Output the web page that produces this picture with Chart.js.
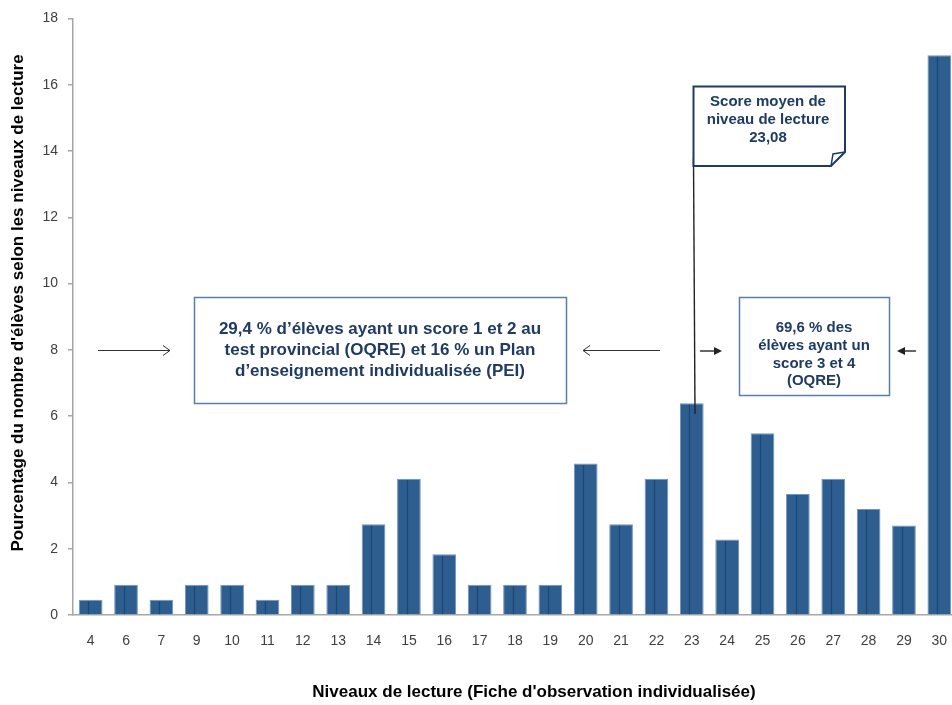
<!DOCTYPE html>
<html>
<head>
<meta charset="utf-8">
<script src="https://cdn.jsdelivr.net/npm/chart.js@4.4.1/dist/chart.umd.min.js"></script>
<style>
  html, body { margin: 0; padding: 0; background: #ffffff; overflow: hidden; }
  #wrap { width: 952px; height: 705px; overflow: hidden; position: relative; }
  canvas { display: block; }
</style>
</head>
<body>
<div id="wrap"><canvas id="c" width="957" height="705"></canvas></div>
<script>
const categories = ['4','6','7','9','10','11','12','13','14','15','16','17','18','19','20','21','22','23','24','25','26','27','28','29','30'];
const percentages = [0.46,0.91,0.46,0.91,0.91,0.46,0.91,0.91,2.74,4.11,1.83,0.91,0.91,0.91,4.57,2.74,4.11,6.39,2.28,5.48,3.65,4.11,3.20,2.70,16.89];
const yMin = 0, yMax = 18, yStep = 2;
const xTitle = "Niveaux de lecture (Fiche d'observation individualisée)";
const yTitle = "Pourcentage du nombre d'élèves selon les niveaux de lecture";
const leftNote = ["29,4 % d’élèves ayant un score 1 et 2 au", "test provincial (OQRE) et 16 % un Plan", "d’enseignement individualisée (PEI)"];
const rightNote = ["69,6 % des", "élèves ayant un", "score 3 et 4", "(OQRE)"];
const meanNote = ["Score moyen de", "niveau de lecture", "23,08"];

const NAVY = '#1F3B63';
const FONT = '"Liberation Sans", Arial, sans-serif';

function arrow(ctx, x1, y, x2, filled) {
  const dir = x2 > x1 ? 1 : -1;
  ctx.beginPath();
  ctx.moveTo(x1, y); ctx.lineTo(x2 - (filled ? dir * 6 : 0), y);
  ctx.stroke();
  ctx.beginPath();
  if (filled) {
    ctx.moveTo(x2, y); ctx.lineTo(x2 - dir * 8, y - 4); ctx.lineTo(x2 - dir * 8, y + 4); ctx.closePath(); ctx.fill();
  } else {
    ctx.moveTo(x2 - dir * 7, y - 5); ctx.lineTo(x2, y); ctx.lineTo(x2 - dir * 7, y + 5); ctx.stroke();
  }
}

function lines(ctx, arr, cx, y0, dy) {
  arr.forEach((t, i) => ctx.fillText(t, cx, y0 + i * dy));
}

const overlay = {
  id: 'overlay',
  afterDatasetsDraw(chart) {
    const ctx = chart.ctx;
    const meta = chart.getDatasetMeta(0);
    ctx.save();
    ctx.strokeStyle = '#1C4675';
    ctx.lineWidth = 1.2;
    meta.data.forEach(bar => {
      const left = bar.x - bar.width / 2;
      const lx = Math.round(left + bar.width * 0.4) + 0.5;
      ctx.beginPath(); ctx.moveTo(lx, bar.y + 1.5); ctx.lineTo(lx, bar.base); ctx.stroke();
    });
    ctx.restore();
  },
  afterDraw(chart) {
    const ctx = chart.ctx;
    ctx.save();
    // callout line to bar 23
    ctx.strokeStyle = '#222';
    ctx.lineWidth = 1.4;
    ctx.beginPath(); ctx.moveTo(693.5, 158); ctx.lineTo(695, 414); ctx.stroke();

    // left note box
    ctx.fillStyle = '#fff';
    ctx.strokeStyle = '#5A7DAF';
    ctx.lineWidth = 1.5;
    ctx.fillRect(194.5, 297.5, 372, 106);
    ctx.strokeRect(194.5, 297.5, 372, 106);
    // right note box
    ctx.fillRect(739.5, 297.5, 150, 98);
    ctx.strokeRect(739.5, 297.5, 150, 98);

    // mean score box with folded corner
    ctx.beginPath();
    ctx.moveTo(693.5, 86.5); ctx.lineTo(845, 86.5); ctx.lineTo(845, 152); ctx.lineTo(831, 166); ctx.lineTo(693.5, 166); ctx.closePath();
    ctx.fillStyle = '#fff'; ctx.fill();
    ctx.strokeStyle = NAVY; ctx.lineWidth = 2; ctx.stroke();
    ctx.beginPath();
    ctx.moveTo(831, 166); ctx.lineTo(833, 154); ctx.lineTo(845, 152);
    ctx.lineWidth = 1.5; ctx.stroke();

    // arrows
    ctx.strokeStyle = '#333'; ctx.fillStyle = '#222'; ctx.lineWidth = 1;
    arrow(ctx, 98, 350.5, 170, false);
    arrow(ctx, 660, 350.5, 583, false);
    ctx.lineWidth = 1.5;
    arrow(ctx, 700, 351, 722, true);
    arrow(ctx, 916, 351, 897, true);

    // texts
    ctx.fillStyle = NAVY;
    ctx.textAlign = 'center';
    ctx.textBaseline = 'middle';
    ctx.font = 'bold 17px ' + FONT;
    lines(ctx, leftNote, 380, 329, 21);
    ctx.font = 'bold 15px ' + FONT;
    lines(ctx, rightNote, 814, 328, 17.7);
    lines(ctx, meanNote, 768, 102, 17.7);

    // axis titles
    ctx.fillStyle = '#000';
    ctx.font = 'bold 17px ' + FONT;
    ctx.fillText(xTitle, 534, 692);
    ctx.translate(18, 303);
    ctx.rotate(-Math.PI / 2);
    ctx.fillText(yTitle, 0, 0);
    ctx.restore();
  }
};

new Chart(document.getElementById('c'), {
  type: 'bar',
  data: {
    labels: categories,
    datasets: [{
      data: percentages,
      backgroundColor: '#2E5E90',
      borderColor: '#7094C0',
      borderWidth: 1,
      barPercentage: 0.67,
      categoryPercentage: 1.0
    }]
  },
  options: {
    responsive: false,
    animation: false,
    devicePixelRatio: 1,
    layout: { padding: { top: 18, left: 0, right: 0, bottom: 0 } },
    plugins: { legend: { display: false }, tooltip: { enabled: false } },
    scales: {
      x: {
        afterFit(scale) { scale.height = 90; },
        grid: { display: true, drawOnChartArea: false, drawTicks: true, tickLength: 18, color: 'rgba(0,0,0,0)' },
        border: { color: '#A6A6A6', width: 1.5 },
        ticks: { font: { size: 14, family: FONT }, color: '#404040', padding: 0, maxRotation: 0, autoSkip: false }
      },
      y: {
        min: yMin, max: yMax,
        afterFit(scale) { scale.width = 73; },
        grid: { drawOnChartArea: false, drawTicks: true, tickLength: 5, color: '#A6A6A6', lineWidth: 1.5 },
        border: { color: '#A6A6A6', width: 1.5 },
        ticks: { stepSize: yStep, font: { size: 14, family: FONT }, color: '#404040', padding: 10 }
      }
    }
  },
  plugins: [overlay]
});
</script>
</body>
</html>
